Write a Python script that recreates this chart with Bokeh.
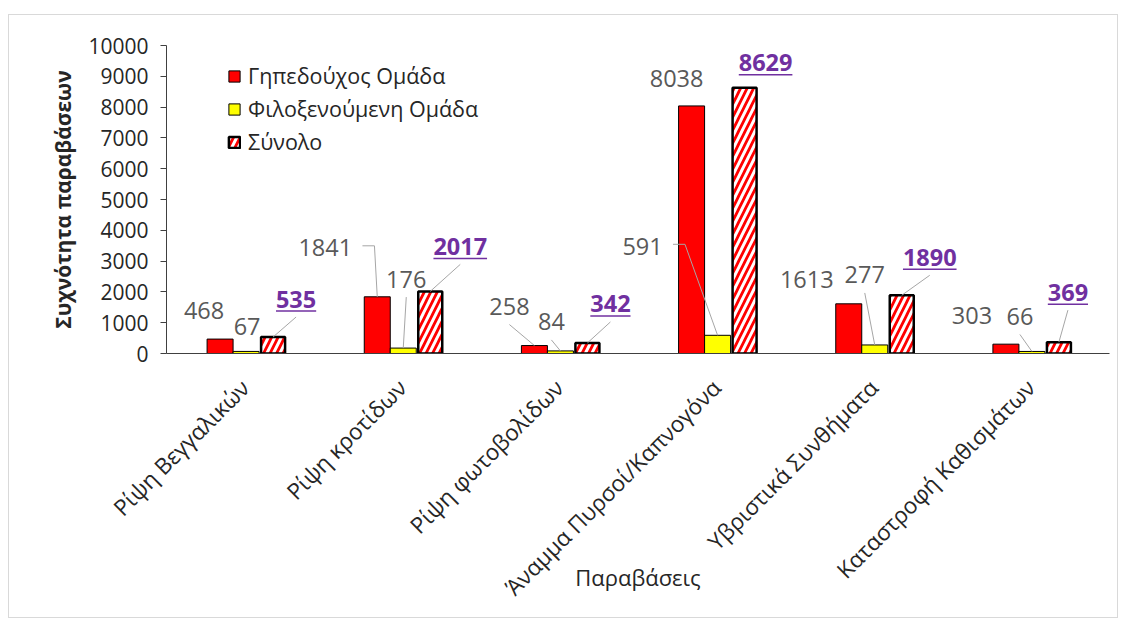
import math
from bokeh.plotting import figure
from bokeh.models import FactorRange, Range1d, FixedTicker, Legend, LegendItem
from bokeh.embed import file_html
from bokeh.resources import INLINE
from bokeh.core.properties import value

# ---------------- data ----------------
categories = ["Ρίψη Βεγγαλικών", "Ρίψη κροτίδων", "Ρίψη φωτοβολίδων",
              "Άναμμα Πυρσοί/Καπνογόνα", "Υβριστικά Συνθήματα", "Καταστροφή Καθισμάτων"]
home = [468, 1841, 258, 8038, 1613, 303]
away = [67, 176, 84, 591, 277, 66]
total = [535, 2017, 342, 8629, 1890, 369]
series_names = ["Γηπεδούχος Ομάδα", "Φιλοξενούμενη Ομάδα", "Σύνολο"]
y_ticks = list(range(0, 10001, 1000))

# ---------------- layout / style ----------------
FONT = "Open Sans"
W, H = 1110, 604
ML, MR, MT = 157, 10, 30
FW, FH = W - ML - MR, 308
MB = H - MT - FH
YMAX = 10000
PX_X = len(categories) / FW      # category units per pixel
PX_Y = YMAX / FH                 # data units per pixel

bar_off_px = [-25, 1, 28]
bar_w_px = [26, 26, 24]
# manual label placement (pixels from bar top centre: dx right, dy up)
home_lbl = [(-16, 29), (-52, 49), (-25, 39), (-15, 27), (-42, 24), (-34, 29)]
away_lbl = [(1, 25), (3, 69), (-9, 29), (-75, 89), (-10, 70), (-12, 35)]
total_lbl = [(23, 38), (30, 45), (23, 39), (21, 25), (28, 38), (9, 50)]
home_lead = [None, "side", "below", None, None, None]
away_lead = [None, "below", "below", "side", "below", "below"]
total_lead = ["below", "below", "below", None, "below", "below"]

p = figure(x_range=FactorRange(factors=categories), y_range=Range1d(0, YMAX),
           width=W, height=H, min_border_left=ML, min_border_right=MR,
           min_border_top=MT, min_border_bottom=MB,
           output_backend="svg", toolbar_location=None)
p.margin = (14, 0, 0, 8)
p.styles = {"border": "1px solid #d9d9d9"}
p.outline_line_color = None
p.xgrid.visible = False
p.ygrid.visible = False

series = [home, away, total]
fills = ["#ff0000", "#ffff00", "#ff0000"]
renderers = []
for s, vals in enumerate(series):
    xs = [i + 0.5 + bar_off_px[s] * PX_X for i in range(len(categories))]
    kw = dict(x=xs, top=vals, bottom=0, width=bar_w_px[s] * PX_X,
              fill_color=fills[s], line_color="black",
              line_width=1 if s < 2 else 2.5)
    if s == 2:
        kw.update(hatch_pattern="/", hatch_color="white", hatch_weight=3,
                  hatch_scale=13)
    renderers.append(p.vbar(**kw))

# leader lines
lead_xs, lead_ys = [], []
for s, (vals, lbl, lead) in enumerate(zip(series, [home_lbl, away_lbl, total_lbl],
                                           [home_lead, away_lead, total_lead])):
    for i, v in enumerate(vals):
        if lead[i] is None:
            continue
        bx = i + 0.5 + bar_off_px[s] * PX_X
        lx = bx + lbl[i][0] * PX_X
        ly = v + lbl[i][1] * PX_Y
        if lead[i] == "below":
            lead_xs.append([lx, bx])
            lead_ys.append([ly - 18 * PX_Y, v])
        else:
            hw = len(str(v)) * 6.8
            lead_xs.append([lx + (hw + 10) * PX_X, lx + (hw + 22) * PX_X, bx])
            lead_ys.append([ly + 2 * PX_Y, ly + 2 * PX_Y, v])
p.multi_line(xs=lead_xs, ys=lead_ys, line_color="#a6a6a6", line_width=1)

# data labels
for s, (vals, lbl) in enumerate(zip(series, [home_lbl, away_lbl, total_lbl])):
    xs = [i + 0.5 + bar_off_px[s] * PX_X for i in range(len(categories))]
    is_tot = s == 2
    p.text(x=xs, y=vals, text=[str(v) for v in vals],
           x_offset=[d[0] for d in lbl], y_offset=[-d[1] for d in lbl],
           text_font=value(FONT), text_font_size="23.5px",
           text_font_style="bold" if is_tot else "normal",
           text_color="#7030a0" if is_tot else "#595959",
           text_align="center", text_baseline="middle")
    if is_tot:
        ux0, ux1, uy = [], [], []
        for i, v in enumerate(vals):
            cx = xs[i] + lbl[i][0] * PX_X
            hw = len(str(v)) * 6.7
            ux0.append(cx - hw * PX_X)
            ux1.append(cx + hw * PX_X)
            uy.append(v + (lbl[i][1] - 12) * PX_Y)
        p.segment(x0=ux0, y0=uy, x1=ux1, y1=uy, line_color="#7030a0", line_width=1.5)

# axes
p.yaxis.ticker = FixedTicker(ticks=y_ticks)
p.yaxis.minor_tick_line_color = None
p.yaxis.major_tick_out = 6
p.yaxis.major_tick_in = 0
p.yaxis.major_label_standoff = 12
p.yaxis.major_label_text_font = FONT
p.yaxis.major_label_text_font_size = "21px"
p.yaxis.major_label_text_color = "#262626"
p.yaxis.axis_label = "Συχνότητα παραβάσεων"
p.yaxis.axis_label_text_font = FONT
p.yaxis.axis_label_text_font_size = "21px"
p.yaxis.axis_label_text_font_style = "bold"
p.yaxis.axis_label_text_color = "#262626"
p.yaxis.axis_label_standoff = 8
for ax in (p.xaxis, p.yaxis):
    ax.axis_line_color = "#404040"
    ax.major_tick_line_color = "#404040"
p.xaxis.major_tick_line_color = None
p.xaxis.minor_tick_line_color = None
p.xaxis.major_label_orientation = math.pi / 4
p.xaxis.major_label_standoff = 24
p.xaxis.major_label_text_font = FONT
p.xaxis.major_label_text_font_size = "22.5px"
p.xaxis.major_label_text_color = "#262626"
p.xaxis.axis_label = "Παραβάσεις"
p.xaxis.axis_label_text_font = FONT
p.xaxis.axis_label_text_font_size = "22px"
p.xaxis.axis_label_text_font_style = "normal"
p.xaxis.axis_label_text_color = "#262626"
p.xaxis.axis_label_standoff = -54

legend = Legend(items=[LegendItem(label=n, renderers=[r]) for n, r in zip(series_names, renderers)],
                location=(56, 192), background_fill_alpha=0, border_line_alpha=0,
                label_text_font=FONT, label_text_font_size="21.5px", label_text_color="#262626",
                glyph_width=14, glyph_height=14, label_height=26, label_standoff=7,
                spacing=4, padding=5, margin=0)
p.add_layout(legend)

open("out.html", "w").write(file_html(p, INLINE))
